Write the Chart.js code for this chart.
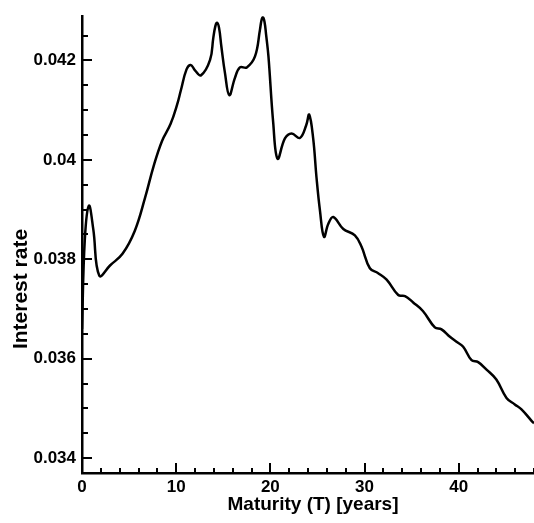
<!DOCTYPE html>
<html>
<head>
<meta charset="utf-8">
<script src="https://cdn.jsdelivr.net/npm/chart.js@4/dist/chart.umd.min.js"></script>
<style>
  html, body { margin: 0; padding: 0; background: #fff; }
  #wrap { width: 534px; height: 523px; }
</style>
</head>
<body>
<div id="wrap"><canvas id="rateChart"></canvas></div>
<script>
// maturity in years
const maturity = [0, 0.3, 0.74, 1.2, 1.84, 3, 4.3, 5.6, 6.7, 7.6, 8.5, 9.4, 10.1, 10.5, 11.1, 11.55, 12.0, 12.63,
    13.6, 13.94, 14.15, 14.33, 14.55, 14.8, 15.18, 15.64, 16.24, 16.77, 17.5, 18.37, 18.9, 19.05, 19.2, 19.38,
    19.55, 19.8, 20.3, 20.77,
    21.55, 22.26, 23.14, 23.8, 24.13, 24.55, 24.9, 25.27, 25.7, 26.15, 26.68, 27.75, 28.98, 29.69, 30.57,
    31.45, 32.35, 33.58, 34.3, 35.17, 36.2, 37.47, 38.18, 39.07, 39.77, 40.48, 41.37, 42.07, 42.96, 44.0,
    45.08, 45.96, 46.67, 47.74, 48];
const rate = [0.0366, 0.0384, 0.03908, 0.0386, 0.03767, 0.03788, 0.03811, 0.03857, 0.03924, 0.03987, 0.04038,
    0.04072, 0.04111, 0.0414, 0.04182, 0.04191, 0.0418, 0.0417,
    0.04201, 0.04245, 0.04268, 0.04276, 0.04266, 0.04228, 0.04175, 0.0413, 0.04165, 0.04186, 0.04186, 0.04208,
    0.04262, 0.04280, 0.04287, 0.04278,
    0.04252, 0.04208, 0.04076, 0.04002,
    0.04043, 0.04053, 0.04044, 0.04069, 0.04091, 0.04043, 0.03965, 0.03898, 0.03845, 0.03871, 0.03885,
    0.03861, 0.03848, 0.03825, 0.03782,
    0.03772, 0.03759, 0.03728, 0.03726, 0.03713, 0.03696, 0.03663, 0.03659, 0.03644, 0.03634, 0.03624,
    0.03597, 0.03593, 0.03578, 0.03558,
    0.03521, 0.03508, 0.03498, 0.03475, 0.0347];

const xTicks = [0, 10, 20, 30, 40];
const yTicks = [0.034, 0.036, 0.038, 0.04, 0.042];
const xMinorStep = 2;
const yMinorStep = 0.0005;
const xTitle = 'Maturity (T) [years]';
const yTitle = 'Interest rate';

const FONT = 'Liberation Sans, Arial, sans-serif';

// ticks point into the plot, so draw them ourselves along with the titles
const axisDecor = {
    id: 'axisDecor',
    afterDraw(chart) {
        const ctx = chart.ctx;
        const area = chart.chartArea;
        const sx = chart.scales.x, sy = chart.scales.y;
        ctx.save();
        ctx.strokeStyle = '#000';
        ctx.lineWidth = 2;
        ctx.beginPath();
        for (let v = sx.min; v <= sx.max + 1e-9; v += xMinorStep) {
            const px = Math.round(sx.getPixelForValue(v));
            const len = xTicks.includes(Math.round(v)) ? 10 : 5;
            ctx.moveTo(px, area.bottom);
            ctx.lineTo(px, area.bottom - len);
        }
        for (let k = Math.ceil(sy.min / yMinorStep); k * yMinorStep <= sy.max; k++) {
            const v = k * yMinorStep;
            const py = Math.round(sy.getPixelForValue(v));
            const major = yTicks.some(t => Math.abs(t - v) < 1e-9);
            ctx.moveTo(area.left, py);
            ctx.lineTo(area.left + (major ? 10 : 6), py);
        }
        ctx.stroke();

        ctx.fillStyle = '#000';
        ctx.font = 'bold 19px ' + FONT;
        ctx.textAlign = 'center';
        ctx.textBaseline = 'middle';
        ctx.fillText(xTitle, 313, 505);
        ctx.translate(21, 289);
        ctx.rotate(-Math.PI / 2);
        ctx.font = 'bold 21px ' + FONT;
        ctx.fillText(yTitle, 0, 0);
        ctx.restore();
    }
};

new Chart(document.getElementById('rateChart'), {
    type: 'line',
    data: {
        datasets: [{
            data: maturity.map((m, i) => ({ x: m, y: rate[i] })),
            borderColor: '#000',
            borderWidth: 2.5,
            pointRadius: 0,
            tension: 0.4,
            fill: false
        }]
    },
    options: {
        responsive: true,
        maintainAspectRatio: false,
        animation: false,
        layout: { padding: { top: 9, right: 0, left: 0, bottom: 0 } },
        plugins: {
            legend: { display: false },
            tooltip: { enabled: false }
        },
        scales: {
            x: {
                type: 'linear',
                min: 0,
                max: 48,
                afterBuildTicks: s => { s.ticks = xTicks.map(v => ({ value: v })); },
                afterFit: s => { s.height = 50; },
                grid: { display: false, drawTicks: false },
                border: { display: true, color: '#000', width: 2.5 },
                ticks: {
                    color: '#000',
                    padding: 4,
                    maxRotation: 0,
                    font: { family: FONT, size: 17, weight: 'bold' }
                }
            },
            y: {
                type: 'linear',
                min: 0.0337,
                max: 0.04289,
                afterBuildTicks: s => { s.ticks = yTicks.map(v => ({ value: v })); },
                afterFit: s => { s.width = 82; },
                grid: { display: false, drawTicks: false },
                border: { display: true, color: '#000', width: 2.5 },
                ticks: {
                    color: '#000',
                    padding: 6,
                    font: { family: FONT, size: 17, weight: 'bold' },
                    callback: v => String(+v.toFixed(3))
                }
            }
        }
    },
    plugins: [axisDecor]
});
</script>
</body>
</html>
